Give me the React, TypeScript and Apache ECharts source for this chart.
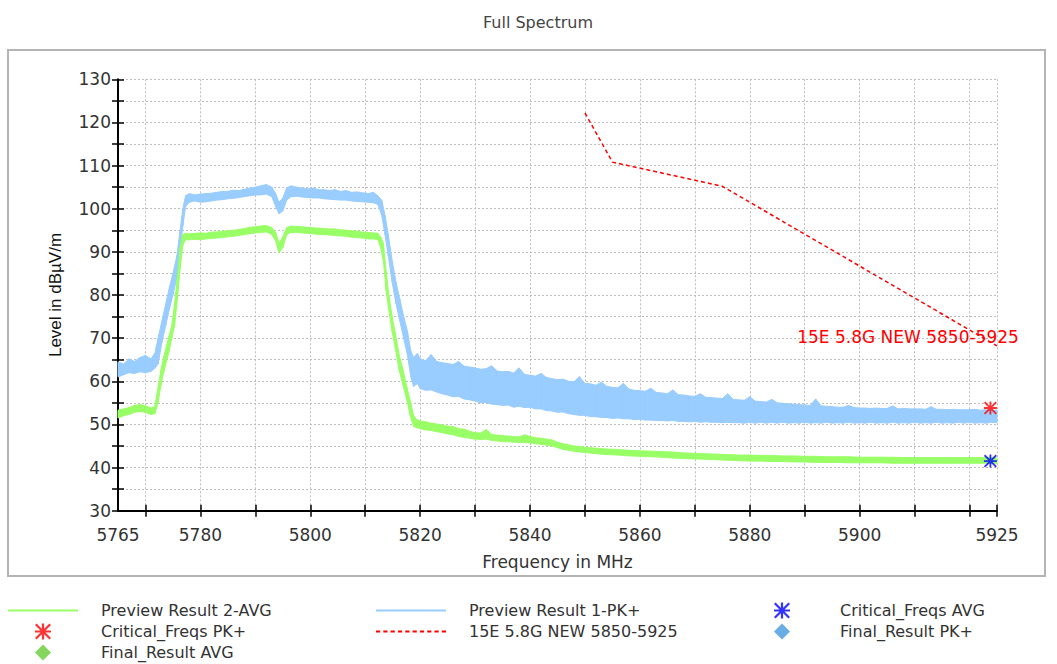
import React, { useEffect, useRef } from 'react';
import * as echarts from 'echarts';

// ---------- axis ticks / labels ----------
const xTicks = [5770, 5780, 5790, 5800, 5810, 5820, 5830, 5840, 5850, 5860, 5870, 5880, 5890, 5900, 5910, 5920, 5925];
const xLabels = [5765, 5780, 5800, 5820, 5840, 5860, 5880, 5900, 5925];

// ---------- Preview Result 1-PK+ (envelope of noisy trace) ----------
const pkFreq = [
  5765, 5766, 5767, 5768, 5769, 5770, 5771, 5771.7,
  5772.3, 5773, 5773.7, 5774.4, 5775, 5775.7, 5776.3, 5776.8, 5777.3, 5778,
  5779, 5780, 5781, 5782, 5783, 5784, 5785, 5786, 5787, 5788, 5789, 5790, 5791, 5792,
  5793, 5793.7, 5794.3, 5795, 5795.7, 5796.5,
  5797.5, 5798.5, 5799.5, 5800.5, 5801.5, 5802.5, 5803.5, 5804.5, 5805.5, 5806.5, 5807.5, 5808.5, 5809.5, 5810.5, 5811.5, 5812.3,
  5813, 5813.6, 5814.2, 5814.9, 5815.6, 5816.3, 5817, 5817.7, 5818.3, 5818.8,
  5819.5,
  5820, 5821, 5822, 5823, 5824, 5825, 5826, 5827, 5828, 5829,
  5830, 5831, 5832, 5833, 5834, 5835, 5836, 5837, 5838, 5839,
  5840, 5841, 5842, 5843, 5844, 5845, 5846, 5847, 5848, 5849,
  5850, 5851, 5852, 5853, 5854, 5855, 5856, 5857, 5858, 5859,
  5860, 5861, 5862, 5863, 5864, 5865, 5866, 5867, 5868, 5869,
  5870, 5871, 5872, 5873, 5874, 5875, 5876, 5877, 5878, 5879,
  5880, 5881, 5882, 5883, 5884, 5885, 5886, 5887, 5888, 5889,
  5890, 5891, 5892, 5893, 5894, 5895, 5896, 5897, 5898, 5899,
  5900, 5901, 5902, 5903, 5904, 5905, 5906, 5907, 5908, 5909,
  5910, 5911, 5912, 5913, 5914, 5915, 5916, 5917, 5918, 5919,
  5920, 5921, 5922, 5923, 5924, 5925,
];
const pkLow = [
  61.0, 61.5, 62.0, 61.8, 62.2, 62.0, 62.3, 63.0,
  64.0, 69.0, 73.0, 77.0, 80.0, 84.0, 90.0, 96.0, 100.5, 101.5,
  101.8, 101.5, 101.6, 101.8, 102.0, 102.1, 102.3, 102.4, 102.6, 102.8, 103.0, 103.2, 103.2, 103.4,
  102.8, 100.5, 98.8, 99.5, 102.0, 102.8,
  102.9, 102.7, 102.6, 102.5, 102.5, 102.3, 102.2, 102.1, 102.0, 102.0, 101.8, 101.7, 101.6, 101.5, 101.4, 101.0,
  98.5, 94.0, 89.0, 83.0, 78.0, 74.0, 70.0, 66.0, 61.0, 58.8,
  59.5,
  58.3, 57.9, 58.0, 57.5, 57.1, 56.8, 56.4, 56.5, 55.9, 55.7,
  55.4, 55.0, 55.1, 54.7, 54.6, 54.4, 54.5, 54.0, 54.2, 53.9,
  54.0, 53.6, 53.6, 53.2, 53.1, 52.8, 52.9, 52.5, 52.3, 52.1,
  52.1, 51.8, 51.8, 51.6, 51.6, 51.4, 51.5, 51.3, 51.3, 51.1,
  51.2, 51.0, 51.0, 50.9, 50.9, 50.8, 50.9, 50.7, 50.7, 50.6,
  50.7, 50.5, 50.6, 50.5, 50.5, 50.4, 50.5, 50.4, 50.4, 50.3,
  50.5, 50.3, 50.5, 50.3, 50.5, 50.3, 50.5, 50.3, 50.4, 50.3,
  50.5, 50.3, 50.4, 50.3, 50.5, 50.3, 50.4, 50.3, 50.5, 50.3,
  50.4, 50.3, 50.5, 50.3, 50.4, 50.3, 50.5, 50.3, 50.4, 50.3,
  50.5, 50.3, 50.4, 50.3, 50.5, 50.3, 50.4, 50.3, 50.5, 50.3,
  50.5, 50.3, 50.4, 50.3, 50.5, 50.4,
];
const pkHigh = [
  64.5, 64.0, 65.2, 64.6, 65.5, 66.0, 65.2, 66.5,
  70.0, 74.0, 78.0, 82.0, 85.0, 89.0, 95.0, 100.0, 103.0, 103.5,
  103.2, 103.4, 103.5, 103.6, 103.8, 104.0, 104.0, 104.3, 104.2, 104.5, 104.8, 105.0, 105.3, 105.6,
  105.0, 103.5, 101.5, 102.5, 104.8, 105.3,
  105.0, 104.8, 104.6, 104.8, 104.4, 104.4, 104.2, 104.4, 104.0, 104.2, 103.8, 103.9, 103.7, 103.5, 103.8, 103.0,
  102.0, 98.5, 94.0, 88.0, 83.0, 79.0, 75.0, 71.5, 67.0, 65.5,
  66.5,
  65.2, 64.8, 66.2, 64.6, 64.3, 64.1, 63.9, 64.6, 63.5, 63.3,
  63.1, 62.8, 62.9, 63.6, 62.4, 62.2, 62.3, 61.9, 63.1, 61.6,
  61.4, 61.2, 61.8, 60.9, 60.6, 60.4, 60.5, 60.0, 59.9, 61.1,
  59.5, 59.4, 59.1, 59.8, 58.8, 58.6, 58.5, 59.5, 58.2, 57.9,
  57.8, 57.7, 58.4, 57.4, 57.3, 57.1, 58.0, 56.9, 56.8, 56.6,
  56.5, 57.1, 56.3, 56.2, 56.1, 56.0, 57.1, 55.8, 55.7, 55.6,
  56.4, 55.4, 55.3, 55.2, 55.8, 55.0, 54.9, 54.8, 54.7, 54.6,
  54.5, 54.4, 55.9, 54.3, 54.2, 54.1, 54.0, 54.0, 54.4, 53.9,
  53.8, 53.8, 53.7, 53.8, 53.7, 53.7, 54.3, 53.6, 53.7, 53.6,
  53.6, 53.6, 53.5, 54.1, 53.5, 53.5, 53.4, 53.5, 53.4, 53.4,
  53.4, 53.5, 53.3, 53.4, 53.3, 53.3,
];

// ---------- Preview Result 2-AVG (envelope of noisy trace) ----------
const avFreq = [
  5765, 5766, 5767, 5768, 5769, 5770, 5771, 5771.7,
  5772.3, 5772.8, 5773.3, 5773.8, 5774.3, 5774.8, 5775.3, 5775.8, 5776.3, 5776.8,
  5777.3, 5778, 5779, 5780, 5781, 5782, 5783, 5784, 5785, 5786, 5787, 5788, 5789, 5790, 5791,
  5792, 5793, 5793.7, 5794.3, 5795, 5795.7, 5796.5,
  5797.5, 5798.5, 5799.5, 5800.5, 5801.5, 5802.5, 5803.5, 5804.5, 5805.5, 5806.5, 5807.5, 5808.5, 5809.5, 5810.5, 5811.5, 5812.3, 5812.8,
  5813.3, 5813.8, 5814.3, 5814.9, 5815.5, 5816.2, 5816.9, 5817.6, 5818.2, 5818.8,
  5819.5,
  5820, 5821, 5822, 5823, 5824, 5825, 5826, 5827, 5828, 5829,
  5830, 5831, 5832, 5833, 5834, 5835, 5836, 5837, 5838, 5839,
  5840, 5841, 5842, 5843, 5844, 5845, 5846, 5847, 5848, 5849, 5850,
  5852, 5854, 5856, 5858, 5860, 5862, 5864, 5866, 5868, 5870,
  5872, 5874, 5876, 5878, 5880, 5882, 5884, 5886, 5888, 5890,
  5892, 5894, 5896, 5898, 5900, 5902, 5904, 5906, 5908, 5910,
  5912, 5914, 5916, 5918, 5920, 5922, 5924,
  5925,
];
const avLow = [
  51.5, 52.0, 52.3, 52.8, 53.0, 52.8, 52.3, 52.5,
  55.0, 59.0, 62.0, 64.5, 67.0, 70.0, 73.0, 79.0, 86.0, 91.5,
  92.8, 92.8, 92.9, 92.8, 93.0, 93.1, 93.2, 93.3, 93.5, 93.6, 93.8, 94.0, 94.2, 94.4, 94.5,
  94.6, 94.0, 92.5, 89.8, 91.0, 94.0, 94.5,
  94.5, 94.4, 94.3, 94.2, 94.0, 94.0, 93.9, 93.8, 93.7, 93.6, 93.4, 93.3, 93.2, 93.0, 93.0, 92.8, 91.0,
  88.0, 81.0, 76.5, 71.5, 67.5, 62.5, 59.0, 55.5, 52.0, 49.5,
  49.2,
  49.0, 48.7, 48.6, 48.3, 48.1, 47.8, 47.6, 47.2, 47.0, 46.8,
  46.6, 46.5, 46.6, 46.3, 46.2, 46.0, 46.0, 45.9, 45.8, 45.8,
  45.7, 45.5, 45.4, 45.2, 45.0, 44.6, 44.2, 44.0, 43.8, 43.6, 43.5,
  43.2, 43.0, 42.9, 42.7, 42.6, 42.5, 42.4, 42.2, 42.1, 42.0,
  41.9, 41.8, 41.7, 41.6, 41.5, 41.5, 41.4, 41.4, 41.3, 41.3,
  41.2, 41.2, 41.2, 41.1, 41.1, 41.1, 41.1, 41.0, 41.0, 41.0,
  41.0, 41.0, 41.0, 41.0, 41.0, 41.0, 41.0,
  41.0,
];
const avHigh = [
  53.3, 53.6, 53.9, 54.4, 54.6, 54.3, 53.8, 54.2,
  58.5, 62.5, 65.5, 68.0, 70.5, 73.0, 78.0, 84.0, 91.0, 94.0,
  94.3, 94.2, 94.3, 94.4, 94.3, 94.6, 94.6, 94.8, 94.9, 95.0, 95.2, 95.4, 95.7, 95.8, 96.0,
  96.1, 95.6, 94.5, 92.0, 93.5, 95.6, 96.0,
  95.9, 95.8, 95.7, 95.6, 95.5, 95.4, 95.3, 95.3, 95.1, 95.0, 94.9, 94.8, 94.6, 94.5, 94.4, 94.3, 93.5,
  92.0, 85.5, 80.0, 75.0, 71.0, 66.0, 62.5, 58.5, 55.5, 52.0,
  51.0,
  50.8, 50.6, 50.3, 50.1, 49.9, 49.6, 49.5, 49.0, 48.9, 48.4,
  48.1, 48.0, 48.8, 47.7, 47.5, 47.4, 47.3, 47.2, 47.1, 47.6,
  47.2, 46.9, 46.8, 46.6, 46.4, 45.9, 45.5, 45.3, 45.0, 44.9, 44.7,
  44.5, 44.3, 44.2, 44.0, 43.9, 43.8, 43.7, 43.6, 43.4, 43.3,
  43.2, 43.1, 43.0, 42.9, 42.9, 42.8, 42.8, 42.7, 42.7, 42.6,
  42.6, 42.5, 42.5, 42.5, 42.4, 42.4, 42.4, 42.4, 42.3, 42.3,
  42.3, 42.3, 42.3, 42.3, 42.3, 42.3, 42.3,
  42.2,
];

// ---------- limit line ----------
const limitName = '15E 5.8G NEW 5850-5925';
const limitFreq = [5850, 5855, 5875, 5925];
const limitLevel = [122.2, 110.8, 105.2, 68.2];

// ---------- critical frequencies ----------
const critPkFreq = [5923.8];
const critPkLevel = [53.8];
const critAvFreq = [5923.8];
const critAvLevel = [41.5];

const BLUE = '#99ccff';
const GREEN = '#99ff66';
const FONT = "'DejaVu Sans', sans-serif";
const ASTERISK =
  'path://M8.6,0L11.4,0L11.4,20L8.6,20Z M0,8.6L20,8.6L20,11.4L0,11.4Z M0,2L2,0L20,18L18,20Z M18,0L20,2L2,20L0,18Z';
const LINE_ICON = 'path://M0,0L70,0L70,2L0,2Z';
const DASH_ICON =
  'path://M0,0L4,0L4,2L0,2Z M7,0L11,0L11,2L7,2Z M14,0L18,0L18,2L14,2Z M21,0L25,0L25,2L21,2Z M28,0L32,0L32,2L28,2Z M35,0L39,0L39,2L35,2Z M42,0L46,0L46,2L42,2Z M49,0L53,0L53,2L49,2Z M56,0L60,0L60,2L56,2Z M63,0L67,0L67,2L63,2Z';
const DIAMOND_ICON = 'path://M10,0L20,10L10,20L0,10Z';

function pairs(f: number[], v: number[]) {
  const n = Math.min(f.length, v.length);
  const out: number[][] = [];
  for (let i = 0; i < n; i++) out.push([f[i], v[i]]);
  return out;
}

// noisy trace drawn as a filled band between its lower and upper envelope
function bandSeries(name: string, f: number[], lo: number[], hi: number[], color: string, z: number) {
  const n = Math.min(f.length, lo.length, hi.length);
  const data: number[][] = [];
  for (let i = 0; i < n; i++) data.push([f[i], lo[i], hi[i]]);
  return {
    name,
    type: 'custom',
    data,
    z,
    silent: true,
    itemStyle: { color },
    encode: { x: 0, y: [1, 2] },
    renderItem: (params: any, api: any) => {
      const i = params.dataIndex;
      if (i >= n - 1) return null;
      const a = api.coord([data[i][0], data[i][1]]);
      const b = api.coord([data[i + 1][0], data[i + 1][1]]);
      const c = api.coord([data[i + 1][0], data[i + 1][2]]);
      const d = api.coord([data[i][0], data[i][2]]);
      return {
        type: 'polygon',
        shape: { points: [a, b, c, d] },
        style: { fill: color, stroke: color, lineWidth: 1, lineJoin: 'round' },
      };
    },
  };
}

const legendText = {
  fontFamily: FONT,
  fontSize: 16,
  color: '#333',
  lineHeight: 16,
  rich: { g: { width: 18 } },
};

function makeLegend(left: number, items: any[]) {
  return {
    orient: 'vertical',
    left,
    top: 602.5,
    padding: 0,
    itemWidth: 70,
    itemHeight: 16,
    itemGap: 5,
    selectedMode: false,
    data: items,
    formatter: (n: string) => '{g|}' + n,
    textStyle: legendText,
  };
}

const option: any = {
  animation: false,
  backgroundColor: '#ffffff',
  title: {
    text: 'Full Spectrum',
    left: 478,
    top: 9,
    textStyle: { fontFamily: FONT, fontSize: 16, fontWeight: 'normal', color: '#444' },
  },
  graphic: [
    {
      type: 'rect',
      z: -10,
      silent: true,
      shape: { x: 8, y: 50, width: 1037, height: 526 },
      style: { fill: 'none', stroke: '#b4b4b4', lineWidth: 2 },
    },
  ],
  legend: [
    makeLegend(8, [
      { name: 'Preview Result 2-AVG', icon: LINE_ICON },
      { name: 'Critical_Freqs PK+' },
      { name: 'Final_Result AVG', icon: DIAMOND_ICON },
    ]),
    makeLegend(376, [
      { name: 'Preview Result 1-PK+', icon: LINE_ICON },
      { name: limitName, icon: DASH_ICON },
    ]),
    // icons of this column are centred in their 70px slot, so the box starts 27px in
    makeLegend(774, [
      { name: 'Critical_Freqs AVG' },
      { name: 'Final_Result PK+', icon: DIAMOND_ICON },
    ]),
  ],
  grid: { left: 118, top: 79.3, width: 879, height: 431.4, containLabel: false, outerBoundsMode: 'none' },
  xAxis: [
    {
      type: 'value',
      min: 5765,
      max: 5925,
      position: 'bottom',
      name: 'Frequency in MHz',
      nameLocation: 'middle',
      nameGap: 43,
      nameTextStyle: { fontFamily: FONT, fontSize: 17, color: '#333' },
      axisLine: { show: true, onZero: false, lineStyle: { color: '#000', width: 2 } },
      axisTick: { show: true, length: 6, customValues: xTicks, lineStyle: { color: '#000', width: 1.5 } },
      axisLabel: {
        customValues: xLabels,
        margin: 16,
        fontFamily: FONT,
        fontSize: 17,
        color: '#333',
        formatter: (v: number) => String(v),
      },
      splitLine: { show: true, lineStyle: { color: '#bdbdbd', width: 1, type: [2, 2] } },
    },
    {
      type: 'value',
      min: 5765,
      max: 5925,
      position: 'bottom',
      axisLine: { show: false, onZero: false },
      axisTick: { show: true, inside: true, length: 6, customValues: xTicks, lineStyle: { color: '#000', width: 1.5 } },
      axisLabel: { show: false },
      splitLine: { show: false },
    },
  ],
  yAxis: [
    {
      type: 'value',
      min: 30,
      max: 130,
      interval: 5,
      position: 'left',
      name: 'Level in dBµV/m',
      nameLocation: 'middle',
      nameGap: 54,
      nameRotate: 90,
      nameTextStyle: { fontFamily: "'Liberation Sans', Arial, sans-serif", fontSize: 17, color: '#111' },
      axisLine: { show: true, onZero: false, lineStyle: { color: '#000', width: 2 } },
      axisTick: { show: true, length: 6, lineStyle: { color: '#000', width: 1.5 } },
      axisLabel: {
        margin: 7,
        fontFamily: FONT,
        fontSize: 17,
        color: '#333',
        formatter: (v: number) => (v % 10 === 0 ? String(v) : ''),
      },
      splitLine: { show: true, lineStyle: { color: '#bdbdbd', width: 1, type: [2, 2] } },
    },
    {
      type: 'value',
      min: 30,
      max: 130,
      interval: 5,
      position: 'left',
      axisLine: { show: false, onZero: false },
      axisTick: { show: true, inside: true, length: 6, lineStyle: { color: '#000', width: 1.5 } },
      axisLabel: { show: false },
      splitLine: { show: false },
    },
  ],
  series: [
    bandSeries('Preview Result 1-PK+', pkFreq, pkLow, pkHigh, BLUE, 2),
    bandSeries('Preview Result 2-AVG', avFreq, avLow, avHigh, GREEN, 3),
    {
      name: limitName,
      type: 'line',
      data: pairs(limitFreq, limitLevel),
      symbol: 'none',
      itemStyle: { color: '#ff0000' },
      lineStyle: { color: '#ff0000', width: 1.5, type: [4, 3] },
      silent: true,
      z: 4,
      markPoint: {
        silent: true,
        symbol: 'circle',
        symbolSize: 1,
        itemStyle: { color: 'rgba(0,0,0,0)' },
        label: {
          show: true,
          position: 'inside',
          offset: [-89, -9],
          formatter: limitName,
          color: '#ff0000',
          fontFamily: FONT,
          fontSize: 17,
        },
        data: [{ coord: [limitFreq[limitFreq.length - 1], limitLevel[limitLevel.length - 1]] }],
      },
    },
    {
      name: 'Critical_Freqs PK+',
      type: 'scatter',
      data: pairs(critPkFreq, critPkLevel),
      symbol: ASTERISK,
      symbolSize: 13,
      itemStyle: { color: '#ff0000' },
      z: 5,
    },
    {
      name: 'Critical_Freqs AVG',
      type: 'scatter',
      data: pairs(critAvFreq, critAvLevel),
      symbol: ASTERISK,
      symbolSize: 13,
      itemStyle: { color: '#0000ff' },
      z: 5,
    },
    {
      name: 'Final_Result AVG',
      type: 'scatter',
      data: [],
      symbol: 'diamond',
      symbolSize: 14,
      itemStyle: { color: '#66cc33' },
    },
    {
      name: 'Final_Result PK+',
      type: 'scatter',
      data: [],
      symbol: 'diamond',
      symbolSize: 14,
      itemStyle: { color: '#4499dd' },
    },
  ],
};

export default function App() {
  const ref = useRef<HTMLDivElement>(null);
  useEffect(() => {
    if (!ref.current) return;
    const chart = echarts.init(ref.current, null, { renderer: 'svg' });
    chart.setOption(option);
    return () => chart.dispose();
  }, []);
  return (
    <div
      ref={ref}
      style={{ position: 'fixed', left: 0, top: 0, width: 1057, height: 664, background: '#fff' }}
    />
  );
}
